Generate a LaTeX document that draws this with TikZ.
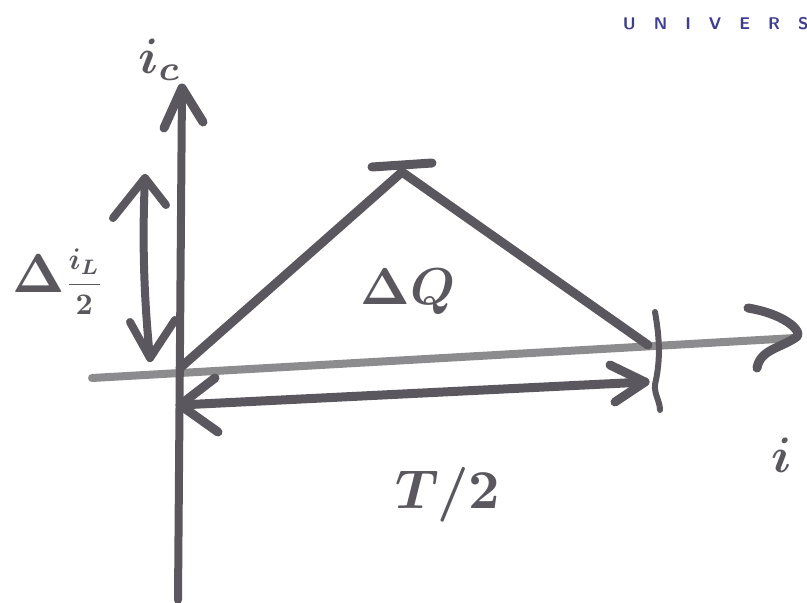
\documentclass[tikz,border=0pt]{standalone}
\usepackage{graphicx}
\usepackage{amsmath}
\usepackage{bm}
\usetikzlibrary{arrows.meta}
\definecolor{ink}{HTML}{5A585E}
\definecolor{inklight}{HTML}{8C8B8E}
\begin{document}
\begin{tikzpicture}[x=1bp,y=-1bp,
  stroke/.style={draw=ink,line width=9bp,line cap=round,line join=round},
  axisx/.style={draw=inklight,line width=8bp,line cap=round},
  head/.style={draw=ink,line width=9bp,line cap=round,line join=round},
  lbl/.style={text=ink,inner sep=1bp}]
\useasboundingbox (0,0) rectangle (807,603);
% logo fragment
\node[text=ink!70!blue,font=\sffamily\bfseries\fontsize{17}{19}\selectfont,anchor=north east] (logo) at (812,14) {U\hspace{18bp}N\hspace{18bp}I\hspace{18bp}V\hspace{18bp}E\hspace{18bp}R\hspace{18bp}S};
% coordinates
\coordinate (ybot) at (178,600);
\coordinate (ytop) at (182,88);
\coordinate (xl) at (92,378);
\coordinate (xr) at (795,338);
\coordinate (o) at (180,368);
\coordinate (pk) at (402,172);
\coordinate (end) at (648,345);
% axes
\draw[axisx] (xl) -- (xr);
\draw[stroke,line width=8bp] (ybot) -- (ytop);
\draw[head] (164,128) -- (ytop) -- (203,122);
\draw[head] (748,308) .. controls (790,315) and (805,335) .. (xr) .. controls (780,348) and (760,350) .. (757,368);
% triangle
\draw[stroke] (o) -- (pk) -- (end);
\draw[stroke] (372,167) -- (432,163);
% tick
\draw[stroke,line width=6bp] (655,312) .. controls (660,340) and (660,360) .. (656,380) .. controls (652,392) and (660,400) .. (660,410);
% vertical double arrow
\coordinate (va) at (145,178);
\coordinate (vb) at (150,358);
\draw[stroke,line width=8bp] (va) .. controls (142,240) and (144,300) .. (vb);
\draw[head,line width=8bp] (113,218) -- (va) -- (166,205);
\draw[head,line width=8bp] (130,322) -- (vb) -- (175,320);
% horizontal double arrow
\coordinate (ha) at (180,405);
\coordinate (hb) at (645,382);
\draw[stroke] (ha) -- (hb);
\draw[head] (215,378) -- (ha) -- (218,432);
\draw[head] (610,365) -- (hb) -- (615,402);
% labels
\node[lbl] (ic) at (160,60) {\scalebox{5}{$\bm{i_c}$}};
\node[lbl] (dq) at (408,292) {\scalebox{5.2}{$\bm{\Delta Q}$}};
\node[lbl] (th) at (448,495) {\scalebox{5.5}{$\bm{T/2}$}};
\node[lbl] (il) at (58,282) {\scalebox{5.5}{$\bm{\Delta}$}\scalebox{3}{$\bm{\dfrac{i_L}{2}}$}};
\node[lbl,anchor=west] (xi) at (770,455) {\scalebox{5}{$\bm{i}$}};
\end{tikzpicture}
\end{document}
